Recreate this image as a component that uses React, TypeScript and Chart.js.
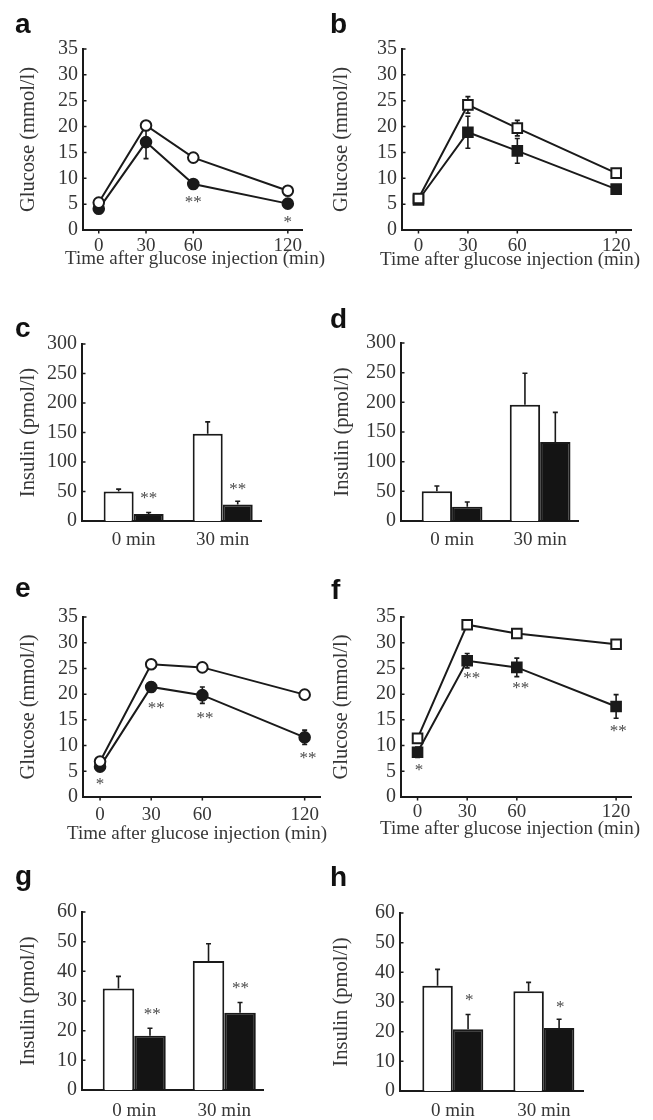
import React, { useEffect, useRef } from 'react';
import { Chart, registerables } from 'chart.js';

Chart.register(...registerables);

// ---------- data ----------
const timePoints = [0, 30, 60, 120];
const timeTicks = [0, 30, 60, 120];
const barGroups = [0, 1];
const barLabels = ['0 min', '30 min'];
const xTitleText = 'Time after glucose injection (min)';

// panel a (glucose, circles)
const aOpen = [5.3, 20.2, 14.0, 7.6];
const aOpenErr = [0.4, 0.5, 0.5, 0.5];
const aFilled = [4.1, 17.0, 8.9, 5.1];
const aFilledErr = [0.4, 3.2, 0.8, 0.4];

// panel b (glucose, squares)
const bOpen = [6.1, 24.2, 19.7, 11.0];
const bOpenErr = [0.5, 1.6, 1.5, 0.5];
const bFilled = [5.8, 18.9, 15.3, 7.9];
const bFilledErr = [0.5, 3.1, 2.4, 0.8];

// panel c (insulin)
const cWhite = [50, 148];
const cWhiteErr = [4, 20];
const cBlack = [12, 28];
const cBlackErr = [2.5, 5.5];

// panel d (insulin)
const dWhite = [50, 196];
const dWhiteErr = [9, 53];
const dBlack = [24, 133];
const dBlackErr = [8, 50];

// panel e (glucose, circles)
const eOpen = [6.9, 25.8, 25.2, 19.9];
const eOpenErr = [0.6, 0.8, 0.8, 0.8];
const eFilled = [5.9, 21.4, 19.8, 11.6];
const eFilledErr = [0.6, 0.9, 1.6, 1.4];

// panel f (glucose, squares)
const fOpen = [11.4, 33.5, 31.8, 29.7];
const fOpenErr = [0.5, 0.5, 0.6, 0.8];
const fFilled = [8.7, 26.5, 25.2, 17.6];
const fFilledErr = [1.0, 1.4, 1.8, 2.3];

// panel g (insulin)
const gWhite = [34.2, 43.5];
const gWhiteErr = [4.1, 5.8];
const gBlack = [18.3, 26.0];
const gBlackErr = [2.5, 3.5];

// panel h (insulin)
const hWhite = [35.5, 33.6];
const hWhiteErr = [5.5, 3.0];
const hBlack = [20.8, 21.2];
const hBlackErr = [5.0, 3.0];

// significance marks (data coordinates)
const aStars = [{ x: 60, y: 6.0, t: '**' }, { x: 120, y: 2.3, t: '*' }];
const cStars = [{ x: 0.17, y: 45, t: '**' }, { x: 1.17, y: 61, t: '**' }];
const dStars: { x: number; y: number; t: string }[] = [];
const eStars = [
  { x: 0, y: 3.3, t: '*' },
  { x: 33, y: 17.9, t: '**' },
  { x: 61.6, y: 16.1, t: '**' },
  { x: 122, y: 8.3, t: '**' },
];
const fStars = [
  { x: 0.9, y: 5.9, t: '*' },
  { x: 32.7, y: 23.9, t: '**' },
  { x: 62.3, y: 21.8, t: '**' },
  { x: 121.3, y: 13.5, t: '**' },
];
const gStars = [{ x: 0.2, y: 26.7, t: '**' }, { x: 1.18, y: 35.4, t: '**' }];
const hStars = [{ x: 0.18, y: 31.7, t: '*' }, { x: 1.18, y: 29.5, t: '*' }];

// ---------- styling ----------
const SERIF = "'Liberation Serif', 'Times New Roman', Times, serif";
const SANS = "'Liberation Sans', Arial, sans-serif";
const INK = '#1a1a1a';
const TEXT = '#363636';
const FS = 19; // x tick labels and x title
const LH = FS * 1.2;
const YFS = 20; // y tick labels
const YTFS = 20.5; // y title
const YTLH = YTFS * 1.2;

type Style = 'openCircle' | 'filledCircle' | 'openSquare' | 'filledSquare' | 'whiteBar' | 'blackBar';
type Series = { values: number[]; errors: number[]; style: Style };
type Star = { x: number; y: number; t: string };
type PanelSpec = {
  letter: string;
  letterPos: [number, number];
  kind: 'line' | 'bar';
  cell: [number, number, number, number];
  area: [number, number, number, number];
  yMax: number;
  yStep: number;
  yTitle: string;
  yTitleX: number;
  xTickY: number;
  xTitlePos?: [number, number];
  xMin: number;
  xMax: number;
  catPct?: number;
  series: Series[];
  stars: Star[];
};

const GLU = 'Glucose (mmol/l)';
const INS = 'Insulin (pmol/l)';

const panels: PanelSpec[] = [
  {
    letter: 'a', letterPos: [15, 33], kind: 'line', cell: [0, 0, 340, 292], area: [83, 302, 49, 230],
    yMax: 35, yStep: 5, yTitle: GLU, yTitleX: 29, xTickY: 246.5, xTitlePos: [195, 259.5], xMin: -10, xMax: 129,
    series: [
      { values: aOpen, errors: aOpenErr, style: 'openCircle' },
      { values: aFilled, errors: aFilledErr, style: 'filledCircle' },
    ],
    stars: aStars,
  },
  {
    letter: 'b', letterPos: [330, 33], kind: 'line', cell: [326, 0, 327, 292], area: [402, 631, 49, 230],
    yMax: 35, yStep: 5, yTitle: GLU, yTitleX: 342, xTickY: 246.5, xTitlePos: [510, 260], xMin: -10, xMax: 129,
    series: [
      { values: bOpen, errors: bOpenErr, style: 'openSquare' },
      { values: bFilled, errors: bFilledErr, style: 'filledSquare' },
    ],
    stars: [],
  },
  {
    letter: 'c', letterPos: [15, 337], kind: 'bar', cell: [0, 280, 340, 280], area: [82, 261, 344, 521],
    yMax: 300, yStep: 50, yTitle: INS, yTitleX: 29, xTickY: 540, xMin: -0.58, xMax: 1.43, catPct: 0.674,
    series: [
      { values: cWhite, errors: cWhiteErr, style: 'whiteBar' },
      { values: cBlack, errors: cBlackErr, style: 'blackBar' },
    ],
    stars: cStars,
  },
  {
    letter: 'd', letterPos: [330, 328], kind: 'bar', cell: [326, 280, 327, 280], area: [401, 578, 343, 521],
    yMax: 300, yStep: 50, yTitle: INS, yTitleX: 342.5, xTickY: 540, xMin: -0.58, xMax: 1.43, catPct: 0.69,
    series: [
      { values: dWhite, errors: dWhiteErr, style: 'whiteBar' },
      { values: dBlack, errors: dBlackErr, style: 'blackBar' },
    ],
    stars: dStars,
  },
  {
    letter: 'e', letterPos: [15, 597], kind: 'line', cell: [0, 560, 340, 292], area: [83, 320, 617, 797],
    yMax: 35, yStep: 5, yTitle: GLU, yTitleX: 29, xTickY: 815, xTitlePos: [197, 834], xMin: -10, xMax: 129,
    series: [
      { values: eOpen, errors: eOpenErr, style: 'openCircle' },
      { values: eFilled, errors: eFilledErr, style: 'filledCircle' },
    ],
    stars: eStars,
  },
  {
    letter: 'f', letterPos: [331, 599], kind: 'line', cell: [326, 560, 327, 292], area: [401, 631, 617, 797],
    yMax: 35, yStep: 5, yTitle: GLU, yTitleX: 342, xTickY: 812, xTitlePos: [510, 829], xMin: -10, xMax: 129,
    series: [
      { values: fOpen, errors: fOpenErr, style: 'openSquare' },
      { values: fFilled, errors: fFilledErr, style: 'filledSquare' },
    ],
    stars: fStars,
  },
  {
    letter: 'g', letterPos: [15, 885], kind: 'bar', cell: [0, 840, 340, 280], area: [82, 263, 912, 1090],
    yMax: 60, yStep: 10, yTitle: INS, yTitleX: 29, xTickY: 1111.5, xMin: -0.58, xMax: 1.43, catPct: 0.7,
    series: [
      { values: gWhite, errors: gWhiteErr, style: 'whiteBar' },
      { values: gBlack, errors: gBlackErr, style: 'blackBar' },
    ],
    stars: gStars,
  },
  {
    letter: 'h', letterPos: [330, 886], kind: 'bar', cell: [326, 840, 327, 280], area: [400, 583, 913, 1091],
    yMax: 60, yStep: 10, yTitle: INS, yTitleX: 342, xTickY: 1111.5, xMin: -0.58, xMax: 1.43, catPct: 0.67,
    series: [
      { values: hWhite, errors: hWhiteErr, style: 'whiteBar' },
      { values: hBlack, errors: hBlackErr, style: 'blackBar' },
    ],
    stars: hStars,
  },
];

function makePlugin(spec: PanelSpec) {
  const [cx, cy] = spec.cell;
  const drawErrors = (chart: any) => {
    const ctx = chart.ctx;
    const ys = chart.scales.y;
    ctx.save();
    ctx.strokeStyle = INK;
    ctx.lineWidth = 1.6;
    chart.data.datasets.forEach((ds: any, i: number) => {
      const meta = chart.getDatasetMeta(i);
      meta.data.forEach((el: any, j: number) => {
        const v = ds.data[j].y;
        const e = ds.errors[j];
        const top = ys.getPixelForValue(v + e);
        const bot = spec.kind === 'bar' ? ys.getPixelForValue(v) : ys.getPixelForValue(v - e);
        ctx.beginPath();
        ctx.moveTo(el.x, top);
        ctx.lineTo(el.x, bot);
        ctx.moveTo(el.x - 2.5, top);
        ctx.lineTo(el.x + 2.5, top);
        if (spec.kind === 'line') {
          ctx.moveTo(el.x - 2.5, bot);
          ctx.lineTo(el.x + 2.5, bot);
        }
        ctx.stroke();
      });
    });
    ctx.restore();
  };
  return {
    id: 'decor',
    beforeDatasetsDraw(chart: any) {
      if (spec.kind === 'line') drawErrors(chart);
    },
    afterDatasetsDraw(chart: any) {
      if (spec.kind === 'bar') drawErrors(chart);
    },
    afterDraw(chart: any) {
      const ctx = chart.ctx;
      const xs = chart.scales.x;
      const ys = chart.scales.y;
      const { left, bottom } = chart.chartArea;
      ctx.save();
      ctx.strokeStyle = INK;
      ctx.lineWidth = 1.5;
      ctx.beginPath();
      ys.ticks.forEach((t: any) => {
        const py = ys.getPixelForValue(t.value);
        ctx.moveTo(left, py);
        ctx.lineTo(left + 3.5, py);
      });
      if (spec.kind === 'line') {
        xs.ticks.forEach((t: any) => {
          const px = xs.getPixelForValue(t.value);
          ctx.moveTo(px, bottom);
          ctx.lineTo(px, bottom + 3.5);
        });
      }
      ctx.stroke();

      // x-axis title (drawn at natural width, no squeezing)
      if (spec.xTitlePos) {
        ctx.fillStyle = TEXT;
        ctx.font = `${FS}px ${SERIF}`;
        ctx.textAlign = 'center';
        ctx.textBaseline = 'middle';
        ctx.fillText(xTitleText, spec.xTitlePos[0] - cx, spec.xTitlePos[1] - cy);
      }

      ctx.fillStyle = '#4a4a4a';
      ctx.font = `17px ${SERIF}`;
      ctx.textAlign = 'center';
      ctx.textBaseline = 'alphabetic';
      spec.stars.forEach((s) => {
        ctx.fillText(s.t, xs.getPixelForValue(s.x), ys.getPixelForValue(s.y) + 8.5);
      });

      ctx.fillStyle = '#111';
      ctx.font = `bold 28px ${SANS}`;
      ctx.textAlign = 'left';
      ctx.fillText(spec.letter, spec.letterPos[0] - cx, spec.letterPos[1] - cy);
      ctx.restore();
    },
  };
}

function buildConfig(spec: PanelSpec): any {
  const [cx, cy, cw, ch] = spec.cell;
  const [al, ar, at, ab] = spec.area;
  const isLine = spec.kind === 'line';
  const xHeight = cy + ch - ab;
  const yWidth = al - cx;
  const yTitlePad = spec.yTitleX - cx - YTLH / 2;
  const xTickPad = spec.xTickY - ab - LH / 2;
  const xFont = { family: SERIF, size: FS };
  const yFont = { family: SERIF, size: YFS };
  const yTitleFont = { family: SERIF, size: YTFS };

  const datasets = spec.series.map((s) => {
    const dataPts = (isLine ? timePoints : barGroups).map((x, i) => ({ x, y: s.values[i] }));
    if (isLine) {
      const square = s.style === 'openSquare' || s.style === 'filledSquare';
      const open = s.style === 'openCircle' || s.style === 'openSquare';
      return {
        data: dataPts,
        errors: s.errors,
        borderColor: INK,
        borderWidth: 2,
        tension: 0,
        fill: false,
        pointStyle: square ? 'rect' : 'circle',
        pointRadius: square ? 6.8 : 5.3,
        pointBackgroundColor: open ? '#ffffff' : INK,
        pointBorderColor: INK,
        pointBorderWidth: 2,
        clip: false,
      };
    }
    return {
      data: dataPts,
      errors: s.errors,
      backgroundColor: s.style === 'whiteBar' ? '#ffffff' : '#141414',
      borderColor: INK,
      borderWidth: 2,
      borderSkipped: 'start',
      categoryPercentage: spec.catPct,
      barPercentage: 1,
    };
  });

  return {
    type: isLine ? 'line' : 'bar',
    data: { datasets },
    options: {
      animation: false,
      responsive: false,
      maintainAspectRatio: false,
      events: [],
      layout: {
        padding: { left: 0, top: at - cy, right: cx + cw - ar, bottom: 0 },
      },
      plugins: { legend: { display: false }, tooltip: { enabled: false } },
      scales: {
        x: {
          type: 'linear',
          min: spec.xMin,
          max: spec.xMax,
          offset: false,
          grid: { display: false, drawTicks: false },
          border: { display: true, color: INK, width: 2 },
          afterBuildTicks: (s: any) => {
            s.ticks = (isLine ? timeTicks : barGroups).map((v) => ({ value: v }));
          },
          ticks: {
            font: xFont,
            color: TEXT,
            padding: xTickPad,
            maxRotation: 0,
            autoSkip: false,
            callback: (v: number) => (isLine ? String(v) : barLabels[barGroups.indexOf(v)] ?? ''),
          },
          title: { display: false },
          afterFit: (s: any) => {
            s.height = xHeight;
          },
        },
        y: {
          type: 'linear',
          min: 0,
          max: spec.yMax,
          grid: { display: false, drawTicks: false },
          border: { display: true, color: INK, width: 2 },
          ticks: { font: yFont, color: TEXT, padding: 5, stepSize: spec.yStep, autoSkip: false },
          title: {
            display: true,
            text: spec.yTitle,
            font: yTitleFont,
            color: TEXT,
            padding: { top: yTitlePad, bottom: 0 },
          },
          afterFit: (s: any) => {
            s.width = yWidth;
          },
        },
      },
    },
    plugins: [makePlugin(spec)],
  };
}

function PanelChart({ spec }: { spec: PanelSpec }) {
  const ref = useRef<HTMLCanvasElement>(null);
  useEffect(() => {
    if (!ref.current) return;
    const chart = new Chart(ref.current, buildConfig(spec));
    return () => chart.destroy();
  }, [spec]);
  const [cx, cy, cw, ch] = spec.cell;
  return (
    <canvas
      ref={ref}
      width={cw}
      height={ch}
      style={{ position: 'absolute', left: cx, top: cy, width: cw, height: ch }}
    />
  );
}

export default function App() {
  return (
    <div
      style={{
        position: 'absolute',
        left: 0,
        top: 0,
        width: 653,
        height: 1120,
        background: '#ffffff',
        overflow: 'hidden',
      }}
    >
      {panels.map((p) => (
        <PanelChart key={p.letter} spec={p} />
      ))}
    </div>
  );
}
